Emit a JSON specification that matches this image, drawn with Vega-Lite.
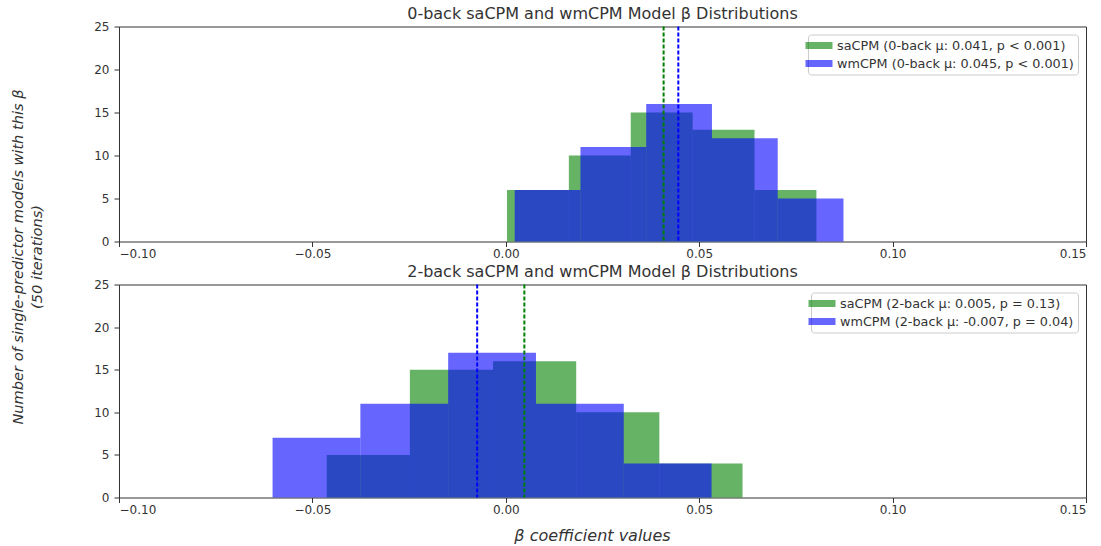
{
  "$schema": "https://vega.github.io/schema/vega-lite/v6.json",
  "background": "white",
  "padding": {"left": 9, "top": 5.5, "right": 5, "bottom": 0},
  "config": {
    "font": "DejaVu Sans",
    "view": {"stroke": "#333", "strokeWidth": 1},
    "axis": {"grid": false, "domain": false, "labelFont": "DejaVu Sans", "labelFontSize": 12, "labelColor": "#333", "tickColor": "#333", "tickSize": 5, "titleFont": "DejaVu Sans", "titleFontWeight": "normal", "titleFontStyle": "italic", "titleColor": "#333"},
    "axisX": {"labelPadding": 2},
    "axisY": {"labelPadding": 5},
    "legend": {"orient": "top-right", "offset": 8, "strokeColor": "#cccccc", "fillColor": "rgba(255,255,255,0.8)", "cornerRadius": 3, "padding": 4, "labelFont": "DejaVu Sans", "labelFontSize": 12.8, "labelColor": "#333", "labelLimit": 0, "symbolType": "M-2,-0.52H2V0.52H-2Z", "symbolSize": 182, "symbolOpacity": 0.6, "symbolStrokeWidth": 0, "symbolOffset": 0, "rowPadding": 4, "labelOffset": 11},
    "title": {"font": "DejaVu Sans", "fontSize": 16, "fontWeight": "normal", "color": "#333", "anchor": "middle"}
  },
  "datasets": {
    "bins": [
      {"task": "0-back", "model": "saCPM", "series": "saCPM (0-back μ: 0.041, p < 0.001)", "start": 0.0003, "end": 0.0163, "count": 6},
      {"task": "0-back", "model": "saCPM", "series": "saCPM (0-back μ: 0.041, p < 0.001)", "start": 0.0163, "end": 0.0323, "count": 10},
      {"task": "0-back", "model": "saCPM", "series": "saCPM (0-back μ: 0.041, p < 0.001)", "start": 0.0323, "end": 0.0483, "count": 15},
      {"task": "0-back", "model": "saCPM", "series": "saCPM (0-back μ: 0.041, p < 0.001)", "start": 0.0483, "end": 0.0643, "count": 13},
      {"task": "0-back", "model": "saCPM", "series": "saCPM (0-back μ: 0.041, p < 0.001)", "start": 0.0643, "end": 0.0803, "count": 6},
      {"task": "0-back", "model": "wmCPM", "series": "wmCPM (0-back μ: 0.045, p < 0.001)", "start": 0.0023, "end": 0.0193, "count": 6},
      {"task": "0-back", "model": "wmCPM", "series": "wmCPM (0-back μ: 0.045, p < 0.001)", "start": 0.0193, "end": 0.0363, "count": 11},
      {"task": "0-back", "model": "wmCPM", "series": "wmCPM (0-back μ: 0.045, p < 0.001)", "start": 0.0363, "end": 0.0533, "count": 16},
      {"task": "0-back", "model": "wmCPM", "series": "wmCPM (0-back μ: 0.045, p < 0.001)", "start": 0.0533, "end": 0.0703, "count": 12},
      {"task": "0-back", "model": "wmCPM", "series": "wmCPM (0-back μ: 0.045, p < 0.001)", "start": 0.0703, "end": 0.0873, "count": 5},
      {"task": "2-back", "model": "saCPM", "series": "saCPM (2-back μ: 0.005, p = 0.13)", "start": -0.0463, "end": -0.0248, "count": 5},
      {"task": "2-back", "model": "saCPM", "series": "saCPM (2-back μ: 0.005, p = 0.13)", "start": -0.0248, "end": -0.0033, "count": 15},
      {"task": "2-back", "model": "saCPM", "series": "saCPM (2-back μ: 0.005, p = 0.13)", "start": -0.0033, "end": 0.0182, "count": 16},
      {"task": "2-back", "model": "saCPM", "series": "saCPM (2-back μ: 0.005, p = 0.13)", "start": 0.0182, "end": 0.0397, "count": 10},
      {"task": "2-back", "model": "saCPM", "series": "saCPM (2-back μ: 0.005, p = 0.13)", "start": 0.0397, "end": 0.0612, "count": 4},
      {"task": "2-back", "model": "wmCPM", "series": "wmCPM (2-back μ: -0.007, p = 0.04)", "start": -0.0603, "end": -0.0376, "count": 7},
      {"task": "2-back", "model": "wmCPM", "series": "wmCPM (2-back μ: -0.007, p = 0.04)", "start": -0.0376, "end": -0.0149, "count": 11},
      {"task": "2-back", "model": "wmCPM", "series": "wmCPM (2-back μ: -0.007, p = 0.04)", "start": -0.0149, "end": 0.0078, "count": 17},
      {"task": "2-back", "model": "wmCPM", "series": "wmCPM (2-back μ: -0.007, p = 0.04)", "start": 0.0078, "end": 0.0305, "count": 11},
      {"task": "2-back", "model": "wmCPM", "series": "wmCPM (2-back μ: -0.007, p = 0.04)", "start": 0.0305, "end": 0.0532, "count": 4}
    ],
    "means": [
      {"task": "0-back", "model": "saCPM", "mean": 0.0408},
      {"task": "0-back", "model": "wmCPM", "mean": 0.0446},
      {"task": "2-back", "model": "saCPM", "mean": 0.0048},
      {"task": "2-back", "model": "wmCPM", "mean": -0.0074}
    ]
  },
  "bounds": "flush",
  "spacing": 43,
  "resolve": {"scale": {"fill": "independent"}, "legend": {"fill": "independent"}},
  "vconcat": [
    {
      "width": 967,
      "height": 215,
      "title": {"text": "0-back saCPM and wmCPM Model β Distributions", "offset": -1.5},
      "layer": [
        {
          "data": {"name": "bins"},
          "transform": [{"filter": "datum.task == '0-back'"}],
          "mark": {"type": "rect", "fillOpacity": 0.6},
          "encoding": {
            "x": {"field": "start", "type": "quantitative", "scale": {"domain": [-0.1, 0.15], "nice": false, "zero": false}, "axis": {"values": [-0.1, -0.05, 0, 0.05, 0.1, 0.15], "format": ".2f", "title": null}},
            "x2": {"field": "end"},
            "y": {"field": "count", "type": "quantitative", "scale": {"domain": [0, 25], "nice": false}, "axis": {"values": [0, 5, 10, 15, 20, 25], "title": ["Number of single-predictor models with this β", "(50 iterations)"], "titleFontSize": 14.6, "titleX": -94, "titleY": 230, "titleAngle": 270, "titleAlign": "center", "titleBaseline": "bottom", "titleLineHeight": 19}},
            "y2": {"datum": 0},
            "fill": {"field": "series", "type": "nominal", "scale": {"domain": ["saCPM (0-back μ: 0.041, p < 0.001)", "wmCPM (0-back μ: 0.045, p < 0.001)"], "range": ["#008000", "#0000ff"]}, "legend": {"title": null}}
          }
        },
        {
          "data": {"name": "means"},
          "transform": [{"filter": "datum.task == '0-back'"}],
          "mark": {"type": "rule", "strokeDash": [4, 2], "strokeWidth": 2},
          "encoding": {
            "x": {"field": "mean", "type": "quantitative"},
            "stroke": {"field": "model", "type": "nominal", "scale": {"domain": ["saCPM", "wmCPM"], "range": ["#008000", "#0000ff"]}, "legend": null}
          }
        }
      ]
    },
    {
      "width": 967,
      "height": 213,
      "title": {"text": "2-back saCPM and wmCPM Model β Distributions", "offset": -1.5},
      "layer": [
        {
          "data": {"name": "bins"},
          "transform": [{"filter": "datum.task == '2-back'"}],
          "mark": {"type": "rect", "fillOpacity": 0.6},
          "encoding": {
            "x": {"field": "start", "type": "quantitative", "scale": {"domain": [-0.1, 0.15], "nice": false, "zero": false}, "axis": {"values": [-0.1, -0.05, 0, 0.05, 0.1, 0.15], "format": ".2f", "title": "β coefficient values", "titleFontSize": 16, "titleX": 473, "titlePadding": 12}},
            "x2": {"field": "end"},
            "y": {"field": "count", "type": "quantitative", "scale": {"domain": [0, 25], "nice": false}, "axis": {"values": [0, 5, 10, 15, 20, 25], "title": null}},
            "y2": {"datum": 0},
            "fill": {"field": "series", "type": "nominal", "scale": {"domain": ["saCPM (2-back μ: 0.005, p = 0.13)", "wmCPM (2-back μ: -0.007, p = 0.04)"], "range": ["#008000", "#0000ff"]}, "legend": {"title": null}}
          }
        },
        {
          "data": {"name": "means"},
          "transform": [{"filter": "datum.task == '2-back'"}],
          "mark": {"type": "rule", "strokeDash": [4, 2], "strokeWidth": 2},
          "encoding": {
            "x": {"field": "mean", "type": "quantitative"},
            "stroke": {"field": "model", "type": "nominal", "scale": {"domain": ["saCPM", "wmCPM"], "range": ["#008000", "#0000ff"]}, "legend": null}
          }
        }
      ]
    }
  ]
}
